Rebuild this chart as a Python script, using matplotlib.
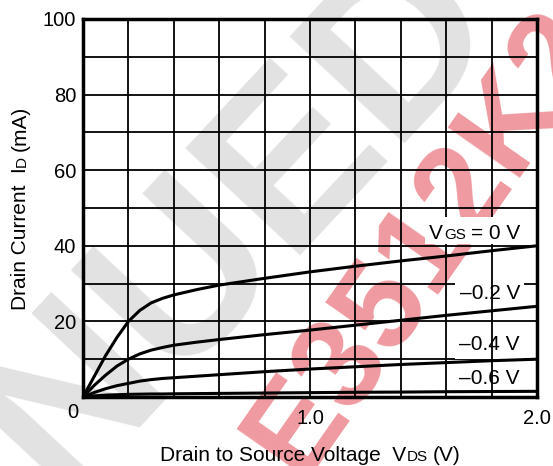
import matplotlib
matplotlib.use("Agg")
import matplotlib.pyplot as plt
from matplotlib.patches import Rectangle

plt.rcParams['font.family'] = ['Liberation Sans', 'DejaVu Sans']

# drain-source voltage (V) where the curves were read
vds = [0.0, 0.05, 0.1, 0.15, 0.2, 0.25, 0.3, 0.35, 0.4, 0.5, 0.6, 0.8,
       1.0, 1.2, 1.4, 1.6, 1.8, 2.0]
# drain current (mA) for each gate-source voltage
id_0v = [0.0, 5.5, 11.0, 15.8, 20.0, 22.9, 24.9, 26.1, 27.0, 28.4, 29.6, 31.4,
         33.1, 34.6, 36.0, 37.3, 38.7, 40.0]
id_m02 = [0.0, 3.1, 5.8, 8.2, 10.0, 11.4, 12.4, 13.1, 13.7, 14.5, 15.2, 16.5,
          17.7, 19.0, 20.3, 21.6, 22.8, 24.0]
id_m04 = [0.0, 1.2, 2.2, 3.0, 3.6, 4.2, 4.6, 4.9, 5.1, 5.5, 5.9, 6.7,
          7.4, 8.0, 8.6, 9.1, 9.6, 10.0]
id_m06 = [0.0, 0.3, 0.5, 0.6, 0.7, 0.75, 0.8, 0.8, 0.85, 0.9, 0.95, 1.05,
          1.15, 1.25, 1.3, 1.4, 1.45, 1.5]

curve_labels = ['–0.2 V', '–0.4 V', '–0.6 V']
label_y = [27.4, 13.8, 5.0]

x_grid = [0.2, 0.4, 0.6, 0.8, 1.0, 1.2, 1.4, 1.6, 1.8]
y_grid = [10, 20, 30, 40, 50, 60, 70, 80, 90]
y_ticks = [20, 40, 60, 80, 100]
x_ticks = [1.0, 2.0]

W, H = 553, 466
FS = 15
SUB = 11

fig = plt.figure(figsize=(W / 100, H / 100), dpi=100)
fig.patch.set_facecolor('white')
ax = fig.add_axes([83 / W, 1 - 397 / H, 454 / W, 378 / H])
ax.set_facecolor('none')
renderer = fig.canvas.get_renderer()


def text_width(s, fs):
    t = fig.text(0, 0, s, fontsize=fs)
    w = t.get_window_extent(renderer).width
    t.remove()
    return w


def rich_text(parts, x, y, rotation=0, align='center'):
    """parts: (text, size, gap before in px); x, y: baseline point in image px"""
    widths = [text_width(s, fs) for s, fs, g in parts]
    total = sum(widths) + sum(p[2] for p in parts)
    pos = {'center': -total / 2, 'right': -total, 'left': 0}[align]
    for (s, fs, gap), w in zip(parts, widths):
        pos += gap
        if rotation == 90:
            px, py = x, y - pos
        else:
            px, py = x + pos, y
        fig.text(px / W, 1 - py / H, s, fontsize=fs, rotation=rotation,
                 rotation_mode='anchor', ha='left', va='baseline', zorder=4)
        pos += w
    return total


# watermarks behind everything
fig.text(0.83, 1.04, 'DISCONTINUED', fontsize=165, fontweight='bold',
         color='#e2e2e2', rotation=47, ha='right', va='center',
         rotation_mode='anchor', zorder=-5)
fig.text(0.77, 0.48, 'E3512K2', fontsize=92, fontweight='bold',
         color='#ef9aa0', rotation=55, ha='center', va='center',
         rotation_mode='anchor', zorder=-4)

for y in y_grid:
    ax.axhline(y, color='black', lw=1.3, zorder=1)
for x in x_grid:
    ax.axvline(x, color='black', lw=1.3, zorder=3)

for txt, y in zip(curve_labels, label_y):
    ax.text(1.925, y, txt, fontsize=FS, ha='right', va='center', zorder=2,
            bbox=dict(boxstyle='square,pad=0.2', fc='white', ec='none'))

for ys in [id_0v, id_m02, id_m04, id_m06]:
    ax.plot(vds, ys, color='black', lw=2.2, zorder=5, solid_capstyle='butt')

ax.set_xlim(0, 2.0)
ax.set_ylim(0, 100)
ax.set_xticks(x_ticks)
ax.set_xticklabels(['1.0', '2.0'])
ax.set_yticks(y_ticks)
ax.tick_params(length=0, labelsize=14.5)
ax.tick_params(axis='x', pad=9)
ax.tick_params(axis='y', pad=5)
ax.annotate('0', xy=(0, 0), xycoords='data', xytext=(-10, -16),
            textcoords='offset pixels', ha='center', va='center', fontsize=14.5)
for s in ax.spines.values():
    s.set_linewidth(2.5)
    s.set_zorder(6)

# axis titles with small-cap style subscripts on the baseline
rich_text([('Drain to Source Voltage  V', FS, 0), ('DS', SUB, 1), ('(V)', FS, 5)],
          310, 461)
rich_text([('Drain Current  I', FS, 0), ('D', SUB, 1), ('(mA)', FS, 5)],
          26, 208, rotation=90)

# VGS = 0 V label on a white box
vgs_w = rich_text([('V', FS, 0), ('GS', SUB, 1), ('= 0 V', FS, 5)],
                  520, 239, align='right')
fig.patches.append(Rectangle(((520 - vgs_w - 4) / W, 1 - 244 / H), (vgs_w + 8) / W,
                             27 / H, transform=fig.transFigure, fc='white',
                             ec='none', zorder=3.5, figure=fig))

fig.savefig('out.png', dpi=100)
